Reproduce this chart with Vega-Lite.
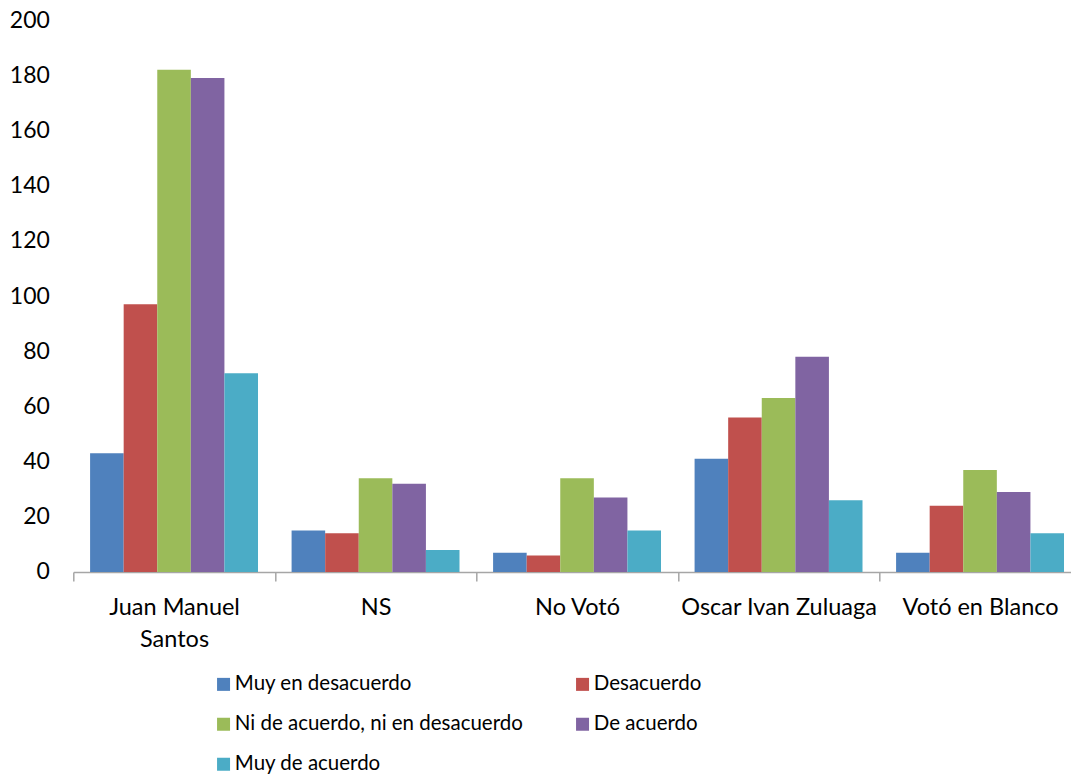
{
  "$schema": "https://vega.github.io/schema/vega-lite/v6.json",
  "autosize": {"type": "none"},
  "padding": {"left": 73.3, "top": 20, "right": 0, "bottom": 203},
  "width": 1007.5,
  "height": 552,
  "background": "white",
  "config": {
    "font": "Lato",
    "view": {"stroke": null}
  },
  "data": {
    "values": [
      {"candidato": "Juan Manuel Santos", "respuesta": "Muy en desacuerdo", "n": 43},
      {"candidato": "Juan Manuel Santos", "respuesta": "Desacuerdo", "n": 97},
      {"candidato": "Juan Manuel Santos", "respuesta": "Ni de acuerdo, ni en desacuerdo", "n": 182},
      {"candidato": "Juan Manuel Santos", "respuesta": "De acuerdo", "n": 179},
      {"candidato": "Juan Manuel Santos", "respuesta": "Muy de acuerdo", "n": 72},
      {"candidato": "NS", "respuesta": "Muy en desacuerdo", "n": 15},
      {"candidato": "NS", "respuesta": "Desacuerdo", "n": 14},
      {"candidato": "NS", "respuesta": "Ni de acuerdo, ni en desacuerdo", "n": 34},
      {"candidato": "NS", "respuesta": "De acuerdo", "n": 32},
      {"candidato": "NS", "respuesta": "Muy de acuerdo", "n": 8},
      {"candidato": "No Votó", "respuesta": "Muy en desacuerdo", "n": 7},
      {"candidato": "No Votó", "respuesta": "Desacuerdo", "n": 6},
      {"candidato": "No Votó", "respuesta": "Ni de acuerdo, ni en desacuerdo", "n": 34},
      {"candidato": "No Votó", "respuesta": "De acuerdo", "n": 27},
      {"candidato": "No Votó", "respuesta": "Muy de acuerdo", "n": 15},
      {"candidato": "Oscar Ivan Zuluaga", "respuesta": "Muy en desacuerdo", "n": 41},
      {"candidato": "Oscar Ivan Zuluaga", "respuesta": "Desacuerdo", "n": 56},
      {"candidato": "Oscar Ivan Zuluaga", "respuesta": "Ni de acuerdo, ni en desacuerdo", "n": 63},
      {"candidato": "Oscar Ivan Zuluaga", "respuesta": "De acuerdo", "n": 78},
      {"candidato": "Oscar Ivan Zuluaga", "respuesta": "Muy de acuerdo", "n": 26},
      {"candidato": "Votó en Blanco", "respuesta": "Muy en desacuerdo", "n": 7},
      {"candidato": "Votó en Blanco", "respuesta": "Desacuerdo", "n": 24},
      {"candidato": "Votó en Blanco", "respuesta": "Ni de acuerdo, ni en desacuerdo", "n": 37},
      {"candidato": "Votó en Blanco", "respuesta": "De acuerdo", "n": 29},
      {"candidato": "Votó en Blanco", "respuesta": "Muy de acuerdo", "n": 14}
    ]
  },
  "mark": {"type": "bar"},
  "encoding": {
    "x": {
      "field": "candidato",
      "type": "nominal",
      "sort": ["Juan Manuel Santos", "NS", "No Votó", "Oscar Ivan Zuluaga", "Votó en Blanco"],
      "scale": {"paddingInner": 0, "paddingOuter": 0},
      "axis": {
        "title": null,
        "labelAngle": 0,
        "labelFontSize": 23.5,
        "labelColor": "black",
        "labelPadding": 15,
        "labelLineHeight": 32,
        "labelLimit": 400,
        "labelExpr": "datum.value == 'Juan Manuel Santos' ? ['Juan Manuel', 'Santos'] : datum.value",
        "tickBand": "extent",
        "tickSize": 9,
        "tickColor": "#A6A6A6",
        "domainColor": "#A6A6A6",
        "domainWidth": 1.5,
        "tickWidth": 1.5
      }
    },
    "xOffset": {
      "field": "respuesta",
      "type": "nominal",
      "sort": ["Muy en desacuerdo", "Desacuerdo", "Ni de acuerdo, ni en desacuerdo", "De acuerdo", "Muy de acuerdo"],
      "scale": {"paddingInner": 0, "paddingOuter": 0.5}
    },
    "y": {
      "field": "n",
      "type": "quantitative",
      "scale": {"domain": [0, 200], "nice": false},
      "axis": {
        "title": null,
        "values": [0, 20, 40, 60, 80, 100, 120, 140, 160, 180, 200],
        "grid": false,
        "domain": false,
        "ticks": false,
        "labelFontSize": 23,
        "labelColor": "black",
        "labelPadding": 24
      }
    },
    "color": {
      "field": "respuesta",
      "type": "nominal",
      "sort": ["Muy en desacuerdo", "Desacuerdo", "Ni de acuerdo, ni en desacuerdo", "De acuerdo", "Muy de acuerdo"],
      "scale": {
        "domain": ["Muy en desacuerdo", "Desacuerdo", "Ni de acuerdo, ni en desacuerdo", "De acuerdo", "Muy de acuerdo"],
        "range": ["#4F81BD", "#C0504D", "#9BBB59", "#8064A2", "#4BACC6"]
      },
      "legend": {
        "title": null,
        "orient": "none",
        "direction": "horizontal",
        "legendX": 140,
        "legendY": 654,
        "columns": 2,
        "columnPadding": 49,
        "rowPadding": 19,
        "padding": 0,
        "symbolType": "square",
        "symbolSize": 169,
        "symbolStrokeWidth": 0,
        "labelFontSize": 20.5,
        "labelColor": "black",
        "labelOffset": 1,
        "labelLimit": 500
      }
    }
  }
}
